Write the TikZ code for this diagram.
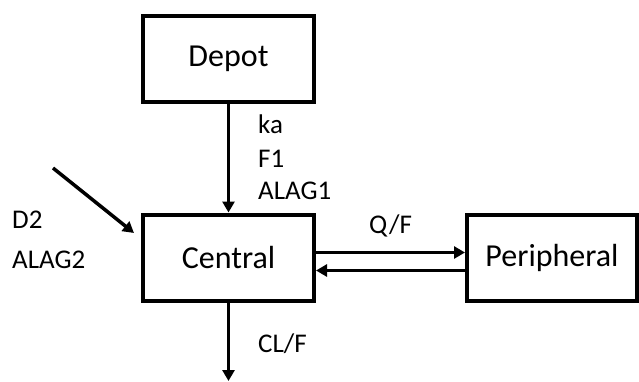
\documentclass[tikz,border=0pt]{standalone}
\usepackage{fontspec}
\setmainfont{Carlito}
\usetikzlibrary{arrows.meta,calc}
\begin{document}
\begin{tikzpicture}[x=1pt,y=-1pt,
  box/.style={draw,line width=4pt,minimum width=171pt,minimum height=86pt,inner sep=0pt,font=\fontsize{32}{36}\selectfont},
  lbl/.style={anchor=base west,inner sep=0pt,font=\fontsize{27}{30}\selectfont},
  conn/.style={line width=3.5pt,-{Triangle[length=11pt,width=12pt]}}]
\useasboundingbox (0,0) rectangle (639,381);
\node[box] (depot) at (228.5,59) {Depot};
\node[box] (central) at (228.5,257.5) {Central};
\node[box,minimum width=170pt] (periph) at (552,257.5) {Peripheral};
\node[lbl] (ka) at (258,133) {ka};
\node[lbl] (f1) at (258,167) {F1};
\node[lbl] (alag1) at (258,199) {ALAG1};
\node[lbl] (d2) at (12,228) {D2};
\node[lbl] (alag2) at (12,268) {ALAG2};
\node[lbl] (qf) at (369,233) {Q/F};
\node[lbl] (clf) at (258,352) {CL/F};
\coordinate (dstart) at (53,168);
\coordinate (dend) at (134,233);
\coordinate (out) at (228.5,381);
\draw[conn] (depot.south) -- (central.north);
\draw[conn] (dstart) -- (dend);
\draw[conn] ([yshift=5pt]central.east) -- ([yshift=5pt]periph.west);
\draw[conn] ([yshift=-13pt]periph.west) -- ([yshift=-13pt]central.east);
\draw[conn] (central.south) -- (out);
\end{tikzpicture}
\end{document}
